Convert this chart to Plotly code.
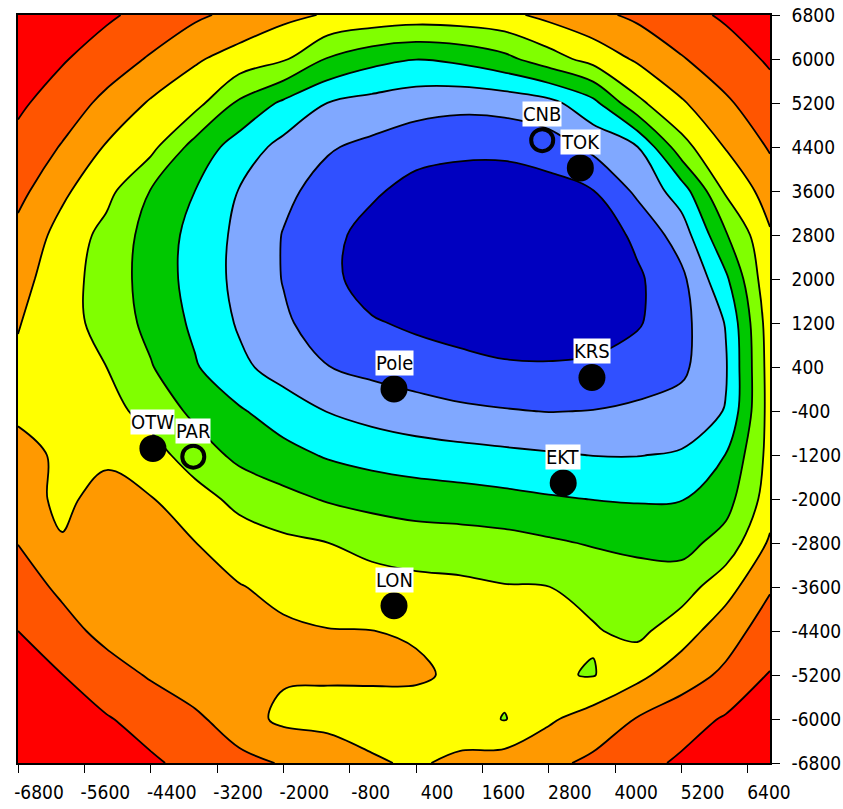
import plotly.graph_objects as go

# ---- grid coordinates (km) ----
x_nodes = [-6800, -6000, -5200, -4400, -3600, -2800, -2000, -1200, -400,
           400, 1200, 2000, 2800, 3600, 4400, 5200, 6000, 6800]
y_nodes = [6800, 6000, 5200, 4400, 3600, 2800, 2000, 1200, 400,
           -400, -1200, -2000, -2800, -3600, -4400, -5200, -6000, -6800]

# ---- field values (contour level units), one row per y node ----
z_y6800 = [9.5, 9.08, 8.66, 8.16, 7.69, 7.2, 6.74, 6.42, 6.2, 6.05, 6.1, 6.26, 6.77, 7.24, 7.71, 8.18, 8.64, 9.1]
z_y6000 = [9.17, 8.59, 8.0, 7.4, 6.62, 6.11, 5.64, 4.43, 3.81, 3.52, 3.73, 4.23, 5.07, 5.87, 6.64, 7.43, 8.03, 8.63]
z_y5200 = [8.68, 8.01, 7.26, 6.39, 5.85, 4.33, 3.32, 2.49, 2.16, 1.9, 1.77, 1.86, 2.19, 3.21, 5.27, 6.38, 7.36, 8.1]
z_y4400 = [8.2, 7.43, 6.41, 5.78, 4.12, 3.05, 2.2, 1.59, 1.27, 0.93, 0.77, 0.77, 1.03, 1.75, 2.47, 5.12, 6.56, 7.6]
z_y3600 = [7.8, 6.68, 5.8, 4.46, 3.5, 2.46, 1.71, 1.15, 0.67, 0.12, -0.06, -0.08, 0.1, 0.47, 1.7, 2.99, 5.65, 6.95]
z_y2800 = [7.2, 6.16, 5.18, 4.13, 3.18, 2.27, 1.46, 0.82, 0.1, -0.4, -0.5, -0.5, -0.45, -0.15, 0.72, 1.98, 4.4, 6.4]
z_y2000 = [6.85, 5.93, 5.06, 4.09, 3.14, 2.24, 1.46, 0.78, 0.03, -0.5, -0.6, -0.6, -0.55, -0.4, 0.34, 1.27, 3.31, 6.3]
z_y1200 = [6.55, 5.89, 5.14, 4.22, 3.31, 2.39, 1.63, 1.09, 0.6, 0.32, 0.07, -0.15, -0.15, -0.05, 0.4, 1.18, 2.55, 6.05]
z_y400 = [6.35, 5.93, 5.5, 4.57, 3.59, 2.72, 2.08, 1.52, 1.22, 1.0, 0.82, 0.64, 0.6, 0.69, 0.96, 1.3, 2.41, 5.95]
z_ym400 = [6.42, 6.1, 5.85, 5.15, 4.27, 3.61, 3.0, 2.47, 2.14, 1.88, 1.67, 1.56, 1.47, 1.52, 1.67, 1.87, 2.55, 5.9]
z_ym1200 = [6.65, 6.42, 6.37, 5.9, 5.03, 4.25, 3.82, 3.4, 3.14, 2.96, 2.84, 2.71, 2.59, 2.48, 2.47, 2.6, 3.52, 5.85]
z_ym2000 = [6.8, 6.35, 6.75, 6.55, 5.9, 5.22, 4.79, 4.41, 4.16, 4.0, 3.89, 3.76, 3.6, 3.48, 3.42, 3.46, 4.11, 6.0]
z_ym2800 = [7.48, 6.55, 6.6, 6.73, 6.52, 6.0, 5.71, 5.51, 5.21, 4.99, 4.95, 4.85, 4.64, 4.42, 4.23, 4.16, 4.88, 6.65]
z_ym3600 = [7.98, 7.3, 6.62, 6.95, 6.77, 6.55, 6.25, 6.08, 5.89, 5.79, 5.7, 5.55, 5.51, 5.22, 5.05, 5.03, 6.12, 7.4]
z_ym4400 = [8.5, 7.86, 7.2, 7.21, 7.0, 6.84, 6.65, 6.53, 6.51, 6.42, 6.25, 5.8, 5.65, 5.58, 5.25, 6.06, 7.05, 8.0]
z_ym5200 = [9.0, 8.51, 7.94, 7.4, 6.8, 6.62, 6.6, 6.58, 6.6, 6.62, 6.35, 5.8, 5.6, 5.45, 6.25, 7.03, 7.7, 8.55]
z_ym6000 = [9.5, 9.0, 8.57, 8.15, 7.72, 6.9, 6.3, 6.25, 6.2, 6.1, 6.0, 5.45, 6.35, 6.97, 7.55, 8.07, 8.6, 9.2]
z_ym6800 = [9.8, 9.43, 9.03, 8.63, 8.23, 7.82, 7.42, 7.01, 6.59, 6.4, 6.69, 7.0, 7.3, 7.68, 8.17, 8.66, 9.15, 9.64]

z_rows = [z_y6800, z_y6000, z_y5200, z_y4400, z_y3600, z_y2800, z_y2000, z_y1200, z_y400,
          z_ym400, z_ym1200, z_ym2000, z_ym2800, z_ym3600, z_ym4400, z_ym5200, z_ym6000, z_ym6800]

# band colours, lowest level first
band_colors = ["#0000C0", "#3050FF", "#80A8FF", "#00FFFF", "#00C800",
               "#80FF00", "#FFFF00", "#FF9900", "#FF5500", "#FF0000"]

# ---- stations ----
station_names = ["CNB", "TOK", "Pole", "KRS", "EKT", "LON", "OTW", "PAR"]
station_x = [2680, 3370, 0, 3580, 3060, 0, -4360, -3630]
station_y = [4525, 4020, 0, 210, -1710, -3940, -1080, -1230]
station_hollow = [True, False, False, False, False, False, False, True]

# ---- ticks ----
x_tick_vals = [-6800, -5600, -4400, -3200, -2000, -800, 400, 1600, 2800, 4000, 5200, 6400]
x_tick_text = ["-6800", "-5600", "-4400", "-3200", "-2000", "-800", "400", "1600", "2800", "4000", "5200", "6400"]
y_tick_vals = [6800, 6000, 5200, 4400, 3600, 2800, 2000, 1200, 400, -400, -1200, -2000,
               -2800, -3600, -4400, -5200, -6000, -6800]
y_tick_text = ["6800", "6000", "5200", "4400", "3600", "2800", "2000", "1200", "400", "-400", "-1200",
               "-2000", "-2800", "-3600", "-4400", "-5200", "-6000", "-6800"]

FONT = "Liberation Sans Narrow, DejaVu Sans Condensed, Arial Narrow, sans-serif"

n = len(band_colors)
scale = []
for k, c in enumerate(band_colors):
    lo = max(0.0, (k - 0.5) / (n - 1))
    hi = min(1.0, (k + 0.5) / (n - 1))
    scale.append([lo, c])
    scale.append([hi, c])

fig = go.Figure()
fig.add_trace(go.Contour(
    x=x_nodes, y=y_nodes, z=z_rows,
    autocontour=False,
    contours=dict(start=0.5, end=8.5, size=1, coloring="fill", showlines=True),
    line=dict(color="black", width=1.8, smoothing=1.0),
    colorscale=scale, showscale=False, hoverinfo="skip",
))

solid_idx = [i for i, h in enumerate(station_hollow) if not h]
hollow_idx = [i for i, h in enumerate(station_hollow) if h]
fig.add_trace(go.Scatter(
    x=[station_x[i] for i in solid_idx], y=[station_y[i] for i in solid_idx],
    mode="markers", marker=dict(size=27, color="black"), hoverinfo="skip",
))
fig.add_trace(go.Scatter(
    x=[station_x[i] for i in hollow_idx], y=[station_y[i] for i in hollow_idx],
    mode="markers", marker=dict(symbol="circle-open", size=22, color="black", line=dict(width=4)),
    hoverinfo="skip",
))

for name, sx, sy in zip(station_names, station_x, station_y):
    fig.add_annotation(x=sx, y=sy, text=name, showarrow=False, yshift=26,
                       bgcolor="white", borderpad=0,
                       font=dict(family=FONT, size=20, color="black"))

fig.update_layout(
    width=843, height=809,
    margin=dict(l=18, r=73, t=15, b=46, autoexpand=False),
    paper_bgcolor="white", plot_bgcolor="white",
    showlegend=False,
)
fig.update_xaxes(
    range=[-6800, 6800], tickmode="array", tickvals=x_tick_vals, ticktext=x_tick_text,
    ticks="outside", ticklen=8, tickwidth=1, tickcolor="black",
    showline=True, linecolor="black", linewidth=1.5, mirror=True,
    showgrid=False, zeroline=False, automargin=False,
    tickfont=dict(family=FONT, size=19, color="black"),
    ticklabelshift=21, ticklabelstandoff=3, ticklabeloverflow="allow",
)
fig.update_yaxes(
    range=[-6800, 6800], side="right", tickmode="array", tickvals=y_tick_vals, ticktext=y_tick_text,
    ticks="outside", ticklen=8, tickwidth=1, tickcolor="black",
    showline=True, linecolor="black", linewidth=1.5, mirror=True,
    showgrid=False, zeroline=False, automargin=False,
    tickfont=dict(family=FONT, size=19, color="black"),
    ticklabelstandoff=8, ticklabeloverflow="allow",
)

# remove the default page margin so the figure fills the window exactly; hide the mode bar
fig.write_html("out.html", config={"displayModeBar": False},
               post_script="document.body.style.margin='0';")
